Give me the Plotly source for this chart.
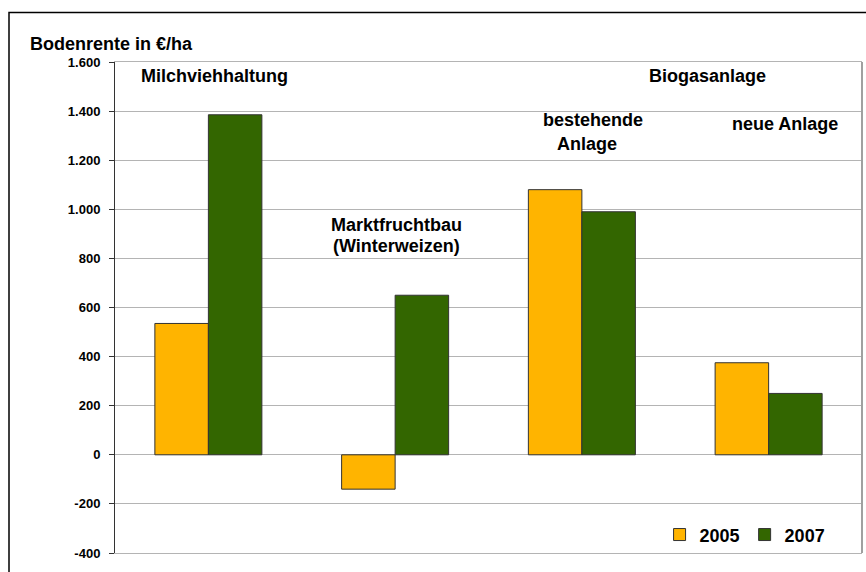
import plotly.graph_objects as go

# Bodenrente by production type, 2005 vs 2007 (EUR per hectare)
categories = ["Milchviehhaltung", "Marktfruchtbau", "bestehende Anlage", "neue Anlage"]
values_2005 = [535, -140, 1080, 375]
values_2007 = [1385, 650, 990, 250]
tick_values = [-400, -200, 0, 200, 400, 600, 800, 1000, 1200, 1400, 1600]
tick_labels = ["-400", "-200", "0", "200", "400", "600", "800",
               "1.000", "1.200", "1.400", "1.600"]

FONT = "Liberation Sans, Arial, sans-serif"
ORANGE = "#FFB400"
GREEN = "#336600"
GRID = "#B4B4B4"

fig = go.Figure()
fig.add_trace(go.Bar(
    x=categories, y=values_2005, name="2005",
    marker=dict(color=ORANGE, line=dict(color="#333333", width=1)),
))
fig.add_trace(go.Bar(
    x=categories, y=values_2007, name="2007",
    marker=dict(color=GREEN, line=dict(color="#333333", width=1)),
))

label_font = dict(family=FONT, size=18, color="#000000", weight="bold")


def label(text, x, y, xref="x", yref="y", xanchor="center"):
    fig.add_annotation(text=text, x=x, y=y, xref=xref, yref=yref,
                       xanchor=xanchor, yanchor="middle", showarrow=False,
                       font=label_font)


label("Bodenrente in €/ha", -0.1165, 1.0367, xref="paper", yref="paper", xanchor="left")
label("Milchviehhaltung", 0.035, 1543)
label("Biogasanlage", 2.67, 1543)
label("bestehende", 2.06, 1362)
label("Anlage", 2.03, 1268)
label("neue Anlage", 3.09, 1348)
label("Marktfruchtbau", 1.01, 935)
label("(Winterweizen)", 1.01, 850)

# outer frame around the whole chart
fig.add_shape(type="rect", xref="paper", yref="paper",
              x0=-0.1419, y0=-0.06, x1=1.02, y1=1.1008,
              line=dict(color="#000000", width=1.5), layer="above")
# right edge of the plot area
fig.add_shape(type="line", xref="paper", yref="paper",
              x0=1, y0=0, x1=1, y1=1,
              line=dict(color="#A0A0A0", width=2), layer="above")

fig.update_layout(
    width=866, height=572,
    margin=dict(l=115, r=4, t=62, b=19),
    paper_bgcolor="#FFFFFF", plot_bgcolor="#FFFFFF",
    barmode="group", bargap=0.427, bargroupgap=0,
    font=dict(family=FONT, color="#000000"),
    showlegend=True,
    legend=dict(orientation="h", x=0.729, y=0.037, xanchor="left", yanchor="middle",
                bgcolor="rgba(0,0,0,0)",
                font=dict(family=FONT, size=18, color="#000000", weight="bold"),
                itemwidth=30, tracegroupgap=0),
    xaxis=dict(showticklabels=False, ticks="", showgrid=False,
               showline=True, linecolor=GRID, linewidth=1, mirror=True,
               range=[-0.5, 3.5], fixedrange=True),
    yaxis=dict(range=[-400, 1600], tickvals=tick_values, ticktext=tick_labels,
               showgrid=True, gridcolor=GRID, gridwidth=1,
               zeroline=True, zerolinecolor=GRID, zerolinewidth=1,
               showline=True, linecolor="#333333", linewidth=1,
               ticks="outside", ticklen=5, tickcolor="#333333",
               ticklabelstandoff=6,
               tickfont=dict(family=FONT, size=13, color="#000000", weight="bold")),
)

fig.write_html("out.html")
